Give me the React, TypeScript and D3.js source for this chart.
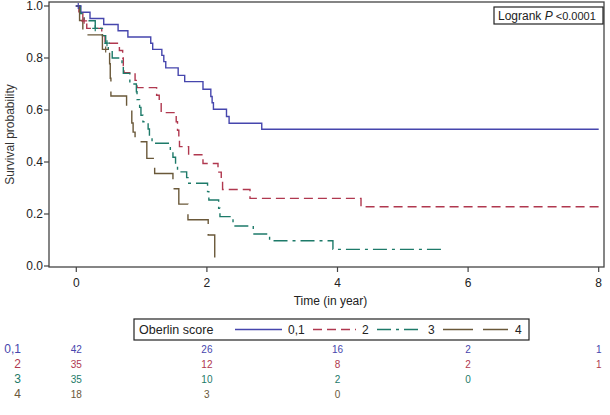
import React from 'react';
import * as d3 from 'd3';

const groupNames = ['0,1', '2', '3', '4'];
const groupColors = ['#4646ad', '#b0384f', '#1d7a69', '#6a5839'];
const groupDash = ['none', '9,5', '14,5,3,5', '30,10'];

const blueTimes = [0, 0.07, 0.21, 0.42, 0.64, 0.79, 1.14, 1.17, 1.31, 1.34, 1.37, 1.56, 1.66, 1.94, 2.06, 2.08, 2.10, 2.30, 2.34, 2.84, 8.0];
const blueSurv = [1, 0.976, 0.952, 0.929, 0.905, 0.881, 0.857, 0.833, 0.81, 0.786, 0.762, 0.733, 0.709, 0.68, 0.652, 0.628, 0.603, 0.575, 0.549, 0.526, 0.526];

const redTimes = [0, 0.04, 0.10, 0.16, 0.39, 0.44, 0.66, 0.71, 0.72, 0.73, 0.90, 0.93, 1.23, 1.27, 1.30, 1.53, 1.55, 1.57, 1.58, 1.72, 1.94, 2.17, 2.22, 2.24, 2.66, 4.36, 8.0];
const redSurv = [1, 0.971, 0.943, 0.914, 0.886, 0.857, 0.829, 0.8, 0.771, 0.743, 0.714, 0.686, 0.657, 0.629, 0.59, 0.555, 0.522, 0.49, 0.459, 0.428, 0.394, 0.361, 0.327, 0.294, 0.26, 0.228, 0.228];

const greenTimes = [0, 0.06, 0.12, 0.29, 0.40, 0.45, 0.49, 0.55, 0.70, 0.72, 0.82, 0.92, 0.93, 0.97, 0.99, 1.02, 1.10, 1.12, 1.16, 1.44, 1.48, 1.52, 1.55, 1.69, 1.71, 2.01, 2.03, 2.18, 2.20, 2.40, 2.71, 2.96, 3.93, 5.62];
const greenSurv = [1, 0.971, 0.943, 0.914, 0.886, 0.857, 0.829, 0.8, 0.771, 0.741, 0.7, 0.67, 0.64, 0.61, 0.58, 0.555, 0.527, 0.5, 0.472, 0.446, 0.418, 0.39, 0.362, 0.34, 0.318, 0.286, 0.254, 0.222, 0.19, 0.154, 0.123, 0.097, 0.064, 0.064];

const brownTimes = [0, 0.05, 0.10, 0.40, 0.51, 0.52, 0.53, 0.77, 0.85, 0.87, 0.90, 1.08, 1.20, 1.48, 1.57, 1.71, 2.02, 2.12];
const brownSurv = [1, 0.944, 0.889, 0.833, 0.778, 0.722, 0.654, 0.6, 0.55, 0.515, 0.478, 0.414, 0.356, 0.297, 0.238, 0.178, 0.119, 0.0];

const censorTimes = [[0.03], [0.12], [0.29, 0.47], [0.45]];

const xTicks = [0, 2, 4, 6, 8];
const yTicks = [0, 0.2, 0.4, 0.6, 0.8, 1.0];

const atRisk0 = [42, 26, 16, 2, 1];
const atRisk2 = [35, 12, 8, 2, 1];
const atRisk3 = [35, 10, 2, 0];
const atRisk4 = [18, 3, 0];

const FONT = "'Liberation Sans', Arial, sans-serif";
const NARROW = "'Liberation Sans Narrow', 'Liberation Sans', Arial, sans-serif";

export default function App() {
  const x = d3.scaleLinear().domain([0, 8]).range([76.3, 598.7]);
  const y = d3.scaleLinear().domain([0, 1]).range([266, 6]);
  const frame = { l: 49, t: 2, r: 604, b: 267 };

  const series = [
    { t: blueTimes, s: blueSurv },
    { t: redTimes, s: redSurv },
    { t: greenTimes, s: greenSurv },
    { t: brownTimes, s: brownSurv },
  ];
  const line = d3
    .line<[number, number]>()
    .x((d) => x(d[0]))
    .y((d) => y(d[1]))
    .curve(d3.curveStepAfter);

  const survAt = (ts: number[], ss: number[], t: number) => {
    let v = ss[0];
    for (let i = 0; i < ts.length; i++) if (ts[i] <= t) v = ss[i];
    return v;
  };

  const risks = [atRisk0, atRisk2, atRisk3, atRisk4];
  const rowY = [353, 368, 383, 398];

  // legend layout
  const legX = 134, legY = 319, legW = 395, legH = 21;
  const legItems = [
    { x1: 235, x2: 282, lx: 288 },
    { x1: 313, x2: 356, lx: 362 },
    { x1: 377, x2: 421, lx: 428 },
    { x1: 443, x2: 508, lx: 515 },
  ];

  return (
    <svg
      width={610}
      height={415}
      style={{ position: 'absolute', left: 0, top: 0, background: '#fff' }}
      fontFamily={FONT}
    >
      <rect x={0} y={0} width={610} height={415} fill="#fff" />
      {/* frame */}
      <rect
        x={frame.l}
        y={frame.t}
        width={frame.r - frame.l}
        height={frame.b - frame.t}
        fill="none"
        stroke="#444"
        strokeWidth={1.3}
      />
      {/* y ticks */}
      {yTicks.map((v) => (
        <g key={'y' + v}>
          <line x1={frame.l - 5} x2={frame.l} y1={y(v)} y2={y(v)} stroke="#444" strokeWidth={1.2} />
          <text x={frame.l - 6} y={y(v) + 4} textAnchor="end" fontSize={12} fill="#222">
            {v.toFixed(1)}
          </text>
        </g>
      ))}
      {/* x ticks */}
      {xTicks.map((v) => (
        <g key={'x' + v}>
          <line x1={x(v)} x2={x(v)} y1={frame.b} y2={frame.b + 5} stroke="#444" strokeWidth={1.2} />
          <text x={x(v)} y={frame.b + 20} textAnchor="middle" fontSize={12} fill="#222">
            {v}
          </text>
        </g>
      ))}
      <text
        transform={`translate(14, ${(frame.t + frame.b) / 2}) rotate(-90)`}
        textAnchor="middle"
        fontSize={12}
        fill="#333"
      >
        Survival probability
      </text>
      <text x={(frame.l + frame.r) / 2 + 4} y={305} textAnchor="middle" fontSize={12} fill="#222">
        Time (in year)
      </text>

      {/* curves */}
      {series.map((sr, i) => {
        const pts: [number, number][] = sr.t.map((t, j) => [t, sr.s[j]]);
        return (
          <path
            key={'c' + i}
            d={line(pts) || ''}
            fill="none"
            stroke={groupColors[i]}
            strokeWidth={1.4}
            strokeDasharray={groupDash[i]}
          />
        );
      })}
      {/* censor marks */}
      {censorTimes.map((cts, i) =>
        cts.map((t, j) => {
          const cx = x(t);
          const cy = y(survAt(series[i].t, series[i].s, t));
          return (
            <path
              key={'m' + i + '-' + j}
              d={`M${cx - 3},${cy}H${cx + 3}M${cx},${cy - 3}V${cy + 3}`}
              stroke={groupColors[i]}
              strokeWidth={1.2}
            />
          );
        })
      )}

      {/* logrank box */}
      <rect x={494} y={7} width={109} height={17} fill="#fff" stroke="#222" strokeWidth={1.2} />
      <text x={498} y={20} fontSize={12} fill="#222">
        Logrank <tspan fontStyle="italic">P</tspan>
        <tspan fontSize={11}> &lt;0.0001</tspan>
      </text>

      {/* legend */}
      <rect x={legX} y={legY} width={legW} height={legH} fill="#fff" stroke="#222" strokeWidth={1.2} />
      <text x={legX + 5} y={legY + 15} fontSize={12.5} fill="#222">
        Oberlin score
      </text>
      {legItems.map((it, i) => (
        <g key={'l' + i}>
          <line
            x1={it.x1}
            x2={it.x2}
            y1={legY + 10.5}
            y2={legY + 10.5}
            stroke={groupColors[i]}
            strokeWidth={1.4}
            strokeDasharray={groupDash[i]}
          />
          <text x={it.lx} y={legY + 15} fontSize={12} fill="#222" fontFamily={NARROW}>
            {groupNames[i]}
          </text>
        </g>
      ))}

      {/* at-risk table */}
      {risks.map((row, i) => (
        <g key={'r' + i}>
          <text x={21} y={rowY[i]} textAnchor="end" fontSize={12} fill={groupColors[i]} fontFamily={NARROW}>
            {groupNames[i]}
          </text>
          {row.map((n, j) => (
            <text
              key={j}
              x={x(xTicks[j])}
              y={rowY[i]}
              textAnchor="middle"
              fontSize={10}
              fill={groupColors[i]}
              fontFamily={NARROW}
            >
              {n}
            </text>
          ))}
        </g>
      ))}
    </svg>
  );
}
